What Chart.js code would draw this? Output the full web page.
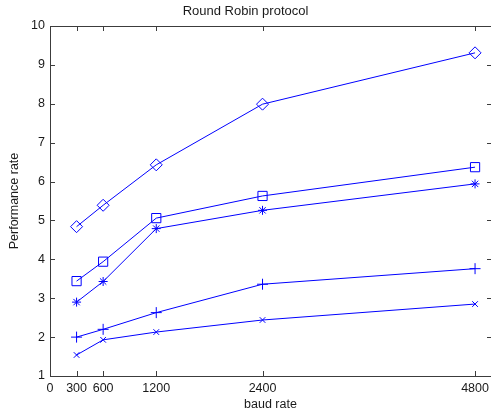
<!DOCTYPE html>
<html>
<head>
<meta charset="utf-8">
<script src="https://cdn.jsdelivr.net/npm/chart.js@4/dist/chart.umd.min.js"></script>
<style>
html,body{margin:0;padding:0;background:#fff;overflow:hidden;}
#wrap{position:relative;width:491px;height:415px;}
</style>
</head>
<body>
<div id="wrap"><canvas id="c" width="491" height="415"></canvas></div>
<script>
const baudRates = [300, 600, 1200, 2400, 4800];
const xTickValues = [0, 300, 600, 1200, 2400, 4800];
const yTickValues = [1, 2, 3, 4, 5, 6, 7, 8, 9, 10];
const seriesDiamond = [4.84, 5.39, 6.43, 7.99, 9.31];
const seriesSquare = [3.44, 3.94, 5.06, 5.63, 6.37];
const seriesStar = [2.90, 3.43, 4.79, 5.26, 5.94];
const seriesPlus = [2.00, 2.20, 2.63, 3.36, 3.76];
const seriesX = [1.54, 1.93, 2.13, 2.44, 2.85];

const BLUE = 'rgb(0,0,255)';
const TXT = '#1a1a1a';
const AXIS = '#3c3c3c';
const FONT = "'Liberation Sans', Arial, sans-serif";

function mk(data, style, r) {
  return {
    data: data.map((v, i) => ({x: baudRates[i], y: v})),
    borderColor: BLUE,
    backgroundColor: 'rgba(0,0,0,0)',
    borderWidth: 1,
    pointStyle: style,
    pointRadius: r,
    pointBorderColor: BLUE,
    pointBackgroundColor: 'rgba(0,0,0,0)',
    pointBorderWidth: 1,
    tension: 0,
    fill: false,
    clip: false
  };
}

const innerTicks = {
  id: 'innerTicks',
  afterDraw(chart) {
    const ctx = chart.ctx, a = chart.chartArea;
    const xs = chart.scales.x, ys = chart.scales.y;
    ctx.save();
    ctx.strokeStyle = AXIS;
    ctx.lineWidth = 1;
    ctx.beginPath();
    ctx.moveTo(a.left, Math.round(a.top) + 0.5);
    ctx.lineTo(a.right, Math.round(a.top) + 0.5);
    const L = 5;
    xTickValues.forEach(v => {
      const px = Math.round(xs.getPixelForValue(v)) + 0.5;
      if (v === 0) return;
      ctx.moveTo(px, a.bottom); ctx.lineTo(px, a.bottom - L);
      ctx.moveTo(px, a.top); ctx.lineTo(px, a.top + L);
    });
    yTickValues.forEach(v => {
      const py = Math.round(ys.getPixelForValue(v)) + 0.5;
      if (v === 1 || v === 10) return;
      ctx.moveTo(a.left, py); ctx.lineTo(a.left + L, py);
      ctx.moveTo(a.right, py); ctx.lineTo(a.right - 4, py);
    });
    ctx.stroke();
    ctx.restore();
  }
};

new Chart(document.getElementById('c'), {
  type: 'line',
  data: {
    datasets: [
      mk(seriesDiamond, 'rectRot', 6),
      mk(seriesSquare, 'rect', 6.5),
      mk(seriesStar, 'star', 4.5),
      mk(seriesPlus, 'cross', 5.5),
      mk(seriesX, 'crossRot', 4)
    ]
  },
  options: {
    responsive: false,
    animation: false,
    devicePixelRatio: 1,
    layout: {autoPadding: false, padding: {left: 0, right: 0, top: 0, bottom: 0}},
    plugins: {
      legend: {display: false},
      tooltip: {enabled: false},
      title: {
        display: true,
        text: 'Round Robin protocol',
        color: TXT,
        font: {family: FONT, size: 13, weight: 'normal', lineHeight: 1.2},
        padding: {top: 3.5, bottom: 6.9}
      }
    },
    scales: {
      x: {
        type: 'linear',
        min: 0,
        max: 4980,
        afterBuildTicks: s => { s.ticks = xTickValues.map(v => ({value: v})); },
        afterFit: s => { s.height = 39; s.paddingLeft = 0; s.paddingRight = 0; },
        grid: {display: false, drawTicks: false},
        border: {display: true, color: AXIS, width: 1},
        ticks: {color: TXT, font: {family: FONT, size: 12.5}, padding: 5, maxRotation: 0, autoSkip: false,
                callback: v => String(v)},
        title: {display: true, text: 'baud rate', color: TXT, font: {family: FONT, size: 12.5}, padding: {top: 0, bottom: 2.5}}
      },
      y: {
        type: 'linear',
        min: 1,
        max: 10,
        afterBuildTicks: s => { s.ticks = yTickValues.map(v => ({value: v})); },
        afterFit: s => { s.width = 50; s.paddingTop = 0; s.paddingBottom = 0; },
        grid: {display: false, drawTicks: false},
        border: {display: true, color: AXIS, width: 1},
        ticks: {color: TXT, font: {family: FONT, size: 12.5}, padding: 5, autoSkip: false},
        title: {display: true, text: 'Performance rate', color: TXT, font: {family: FONT, size: 12.5}, padding: {top: 7.5, bottom: 0}}
      }
    }
  },
  plugins: [innerTicks]
});
</script>
</body>
</html>
